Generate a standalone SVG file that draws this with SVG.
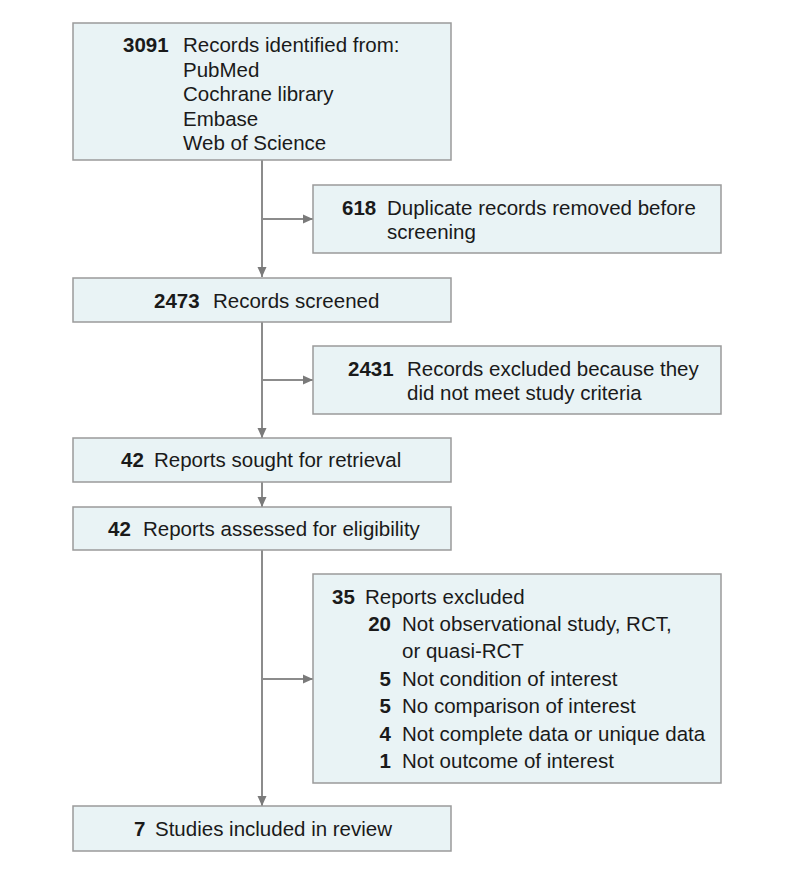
<svg xmlns="http://www.w3.org/2000/svg" width="794" height="871" viewBox="0 0 794 871">
<style>
.box{fill:#e9f3f5;stroke:#9a9a9a;stroke-width:1.5}
text{font-family:"Liberation Sans",Arial,sans-serif;font-size:20.5px;fill:#1a1a1a}
.b{font-weight:bold}
.e{text-anchor:end}
.c{fill:none;stroke:#8c8c8c;stroke-width:2}
</style>
<defs>
<marker id="ah" markerUnits="userSpaceOnUse" markerWidth="11" markerHeight="10" refX="10" refY="5" orient="auto">
<path d="M0,0.5 L10,5 L0,9.5 z" fill="#7a7a7a"/>
</marker>
</defs>
<rect width="794" height="871" fill="#ffffff"/>
<g id="connectors">
<path class="c" d="M262,160 V277" marker-end="url(#ah)"/>
<path class="c" d="M262,219 H313" marker-end="url(#ah)"/>
<path class="c" d="M262,322 V438" marker-end="url(#ah)"/>
<path class="c" d="M262,380 H313" marker-end="url(#ah)"/>
<path class="c" d="M262,482 V507" marker-end="url(#ah)"/>
<path class="c" d="M262,550 V806" marker-end="url(#ah)"/>
<path class="c" d="M262,679 H313" marker-end="url(#ah)"/>
</g>
<g id="identified">
<rect class="box" x="73" y="23" width="378" height="137"/>
<text class="b" x="123" y="52">3091</text>
<text x="183" y="52">Records identified from:</text>
<text x="183" y="76.5">PubMed</text>
<text x="183" y="101">Cochrane library</text>
<text x="183" y="125.5">Embase</text>
<text x="183" y="150">Web of Science</text>
</g>
<g id="duplicates">
<rect class="box" x="313" y="185" width="408" height="68"/>
<text class="b" x="342" y="215">618</text>
<text x="387" y="215">Duplicate records removed before</text>
<text x="387" y="239">screening</text>
</g>
<g id="screened">
<rect class="box" x="73" y="278" width="378" height="44"/>
<text class="b" x="154" y="308">2473</text>
<text x="213" y="308">Records screened</text>
</g>
<g id="excluded">
<rect class="box" x="313" y="346" width="408" height="68"/>
<text class="b" x="348" y="376">2431</text>
<text x="407" y="376">Records excluded because they</text>
<text x="407" y="400">did not meet study criteria</text>
</g>
<g id="sought">
<rect class="box" x="73" y="438" width="378" height="44"/>
<text class="b" x="121" y="467">42</text>
<text x="154" y="467">Reports sought for retrieval</text>
</g>
<g id="assessed">
<rect class="box" x="73" y="507" width="378" height="43"/>
<text class="b" x="108" y="536">42</text>
<text x="143" y="536">Reports assessed for eligibility</text>
</g>
<g id="reports-excluded">
<rect class="box" x="313" y="574" width="408" height="209"/>
<text class="b" x="332" y="604">35</text>
<text x="365" y="604">Reports excluded</text>
<text class="b e" x="391" y="631">20</text>
<text x="402" y="631">Not observational study, RCT,</text>
<text x="402" y="658">or quasi-RCT</text>
<text class="b e" x="391" y="686">5</text>
<text x="402" y="686">Not condition of interest</text>
<text class="b e" x="391" y="713">5</text>
<text x="402" y="713">No comparison of interest</text>
<text class="b e" x="391" y="741">4</text>
<text x="402" y="741">Not complete data or unique data</text>
<text class="b e" x="391" y="768">1</text>
<text x="402" y="768">Not outcome of interest</text>
</g>
<g id="included">
<rect class="box" x="73" y="806" width="378" height="45"/>
<text class="b" x="134" y="836">7</text>
<text x="155" y="836">Studies included in review</text>
</g>
</svg>
